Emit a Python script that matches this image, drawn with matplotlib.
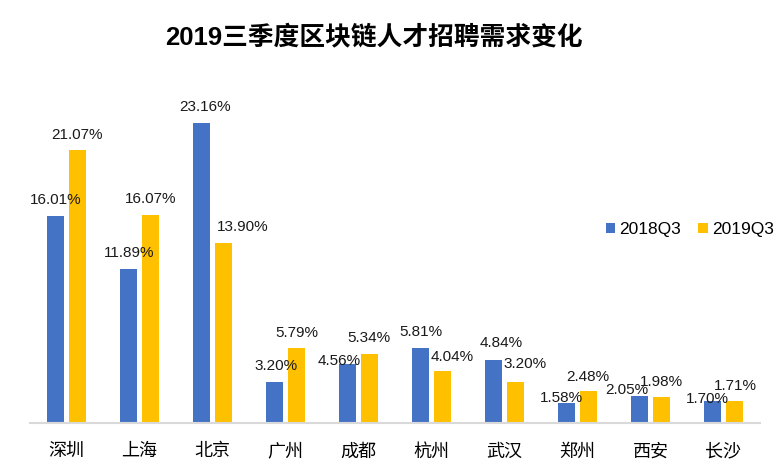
import matplotlib
matplotlib.use("Agg")
import matplotlib.pyplot as plt
import numpy as np

plt.rcParams['font.family'] = ['Liberation Sans', 'Noto Sans CJK SC', 'DejaVu Sans']

cities = ["深圳", "上海", "北京", "广州", "成都", "杭州", "武汉", "郑州", "西安", "长沙"]
q3_2018 = [16.01, 11.89, 23.16, 3.20, 4.56, 5.81, 4.84, 1.58, 2.05, 1.70]
q3_2019 = [21.07, 16.07, 13.90, 5.79, 5.34, 4.04, 3.20, 2.48, 1.98, 1.71]
series_names = ["2018Q3", "2019Q3"]
title = "2019三季度区块链人才招聘需求变化"

# label placement tweaks (pixels): horizontal shift, height of label centre above bar top
off_2018 = [(0, 16), (0, 16), (3, 16), (1, 16), (-9, 3), (0, 16), (7, 17), (-5, 5), (-13, 6), (-5, 2)]
off_2019 = [(0, 15), (0, 16), (19, 16), (1, 15), (0, 16), (10, 14), (10, 18), (0, 14), (0, 15), (1, 15)]

blue = "#4472C4"
yellow = "#FFC000"

fig = plt.figure(figsize=(7.84, 4.70), dpi=100)
ax = fig.add_axes([30/784, 47/470, 730/784, 343/470])

x = np.arange(len(cities))
w = 0.228
gap = 0.068
b1 = ax.bar(x - w/2 - gap/2, q3_2018, w, color=blue, label=series_names[0])
b2 = ax.bar(x + w/2 + gap/2, q3_2019, w, color=yellow, label=series_names[1])

px2pt = 72/100
for bars, vals, offs in ((b1, q3_2018, off_2018), (b2, q3_2019, off_2019)):
    for r, v, (dx, dy) in zip(bars, vals, offs):
        ax.annotate(f"{v:.2f}%", (r.get_x() + r.get_width()/2, v),
                    xytext=(dx*px2pt, dy*px2pt), textcoords="offset points",
                    ha="center", va="center", fontsize=11, color="#1a1a1a",
                    family=['Liberation Sans', 'DejaVu Sans'])

ax.set_xlim(-0.5, len(cities) - 0.5)
ax.set_ylim(0, 343/12.95)
ax.set_xticks(x)
ax.set_xticklabels(cities, family=['Noto Sans CJK SC'], fontsize=13)
ax.tick_params(axis='x', length=0, pad=14)
ax.set_yticks([])
for s in ["top", "right", "left"]:
    ax.spines[s].set_visible(False)
ax.spines["bottom"].set_color("#D9D9D9")
ax.spines["bottom"].set_linewidth(1.5)

leg = ax.legend(loc="center left", bbox_to_anchor=(606/784, 1 - 230/470),
                bbox_transform=fig.transFigure, borderpad=0, borderaxespad=0,
                ncol=2, frameon=False, fontsize=12.5, handlelength=0.52, handleheight=0.52,
                columnspacing=1.0, handletextpad=0.25)

fig.text(374/784, 1 - 37/470, title, ha="center", va="center", fontsize=18.5,
         fontweight="bold", family=['Liberation Sans', 'Noto Sans CJK SC'])

fig.savefig("out.png", dpi=100, facecolor="white")
